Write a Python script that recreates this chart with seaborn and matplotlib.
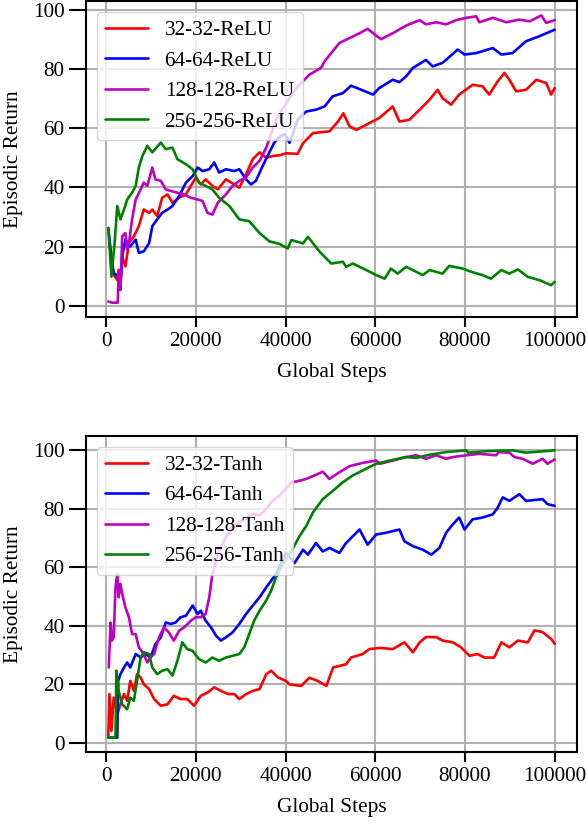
import matplotlib
matplotlib.use("Agg")
import matplotlib.pyplot as plt
import seaborn as sns
import pandas as pd

# ---------------- data (step, episodic return) ----------------
relu_labels = ["32-32-ReLU", "64-64-ReLU", "128-128-ReLU", "256-256-ReLU"]
tanh_labels = ["32-32-Tanh", "64-64-Tanh", "128-128-Tanh", "256-256-Tanh"]
colors = ["#ff0000", "#0000ff", "#bf00bf", "#008000"]

relu_32 = [(800, 20), (1700, 10.5), (2500, 8.8), (3200, 7.9), (3600, 16.7), (4300, 13.3), (5100, 21.2),
           (6200, 23.5), (7300, 26.9), (8400, 32.5), (9600, 31.4), (10300, 32.5), (11400, 30.3), (12500, 36.5),
           (13700, 37.6), (14800, 34.8), (16300, 36.5), (17800, 37.6), (18900, 40.5), (20000, 43.3),
           (21100, 41), (22200, 42.7), (23700, 40.5), (24900, 39.3), (26700, 42.7), (28600, 41), (29700, 39.9),
           (31200, 44.4), (32700, 49.5), (34200, 51.8), (35700, 50), (37200, 50.6), (38700, 50.8), (40100, 51.5),
           (42700, 51.3), (43900, 54.9), (46100, 58.3), (49800, 58.9), (51700, 62.2), (52900, 65), (54300, 60.5),
           (55800, 59.4), (58700, 61.7), (60900, 63.4), (63900, 67.3), (65400, 62.2), (67600, 62.8), (69900, 66.2),
           (72100, 69.6), (73900, 72.9), (75000, 70.1), (76900, 67.9), (78700, 71.3), (81700, 74.6), (83900, 74.1),
           (85400, 71.3), (87300, 75.8), (88800, 78.6), (89900, 76.3), (91400, 72.4), (93600, 72.9), (95900, 76.3),
           (98100, 75.2), (99200, 71.3), (100000, 73.5)]

relu_64 = [(500, 26.3), (1000, 19), (1700, 11.1), (2800, 9.9), (3200, 6.6), (3600, 16.7), (4300, 22.4),
           (5400, 20.1), (6600, 22.4), (7300, 17.9), (8400, 18.4), (9600, 21.2), (10300, 26.9), (11400, 29.2),
           (12500, 31.4), (13700, 32.5), (14800, 33.7), (16300, 37.1), (17800, 41.6), (19300, 43.8), (20400, 46.7),
           (21500, 45.5), (23000, 46.1), (24100, 48.4), (25200, 45), (26700, 46.1), (28600, 45.5), (29700, 46.1),
           (31200, 42.7), (32300, 41), (33400, 42.2), (34900, 47.2), (36000, 50.6), (37500, 55.1), (38700, 57),
           (39800, 58), (40900, 55), (42700, 62.8), (44600, 65.6), (46800, 66.2), (48700, 67.3), (50500, 70.7),
           (52800, 71.8), (54600, 74.3), (56900, 72.9), (59500, 71.3), (60900, 73.5), (63900, 76.3), (65400, 75.5),
           (66900, 77.5), (68400, 80.3), (71300, 83), (72800, 80.8), (75000, 82), (78400, 86.5), (79900, 84.8),
           (82500, 85.3), (86200, 87), (88100, 84.8), (90600, 85.3), (93600, 89.3), (96600, 91), (100000, 93.2)]

relu_128 = [(500, 1.5), (1300, 1.1), (2600, 1.1), (2800, 12.2), (3200, 5.4), (3600, 23.5), (4300, 24.6),
            (4700, 19), (5100, 21.2), (5800, 29.2), (6600, 35.9), (7700, 39.3), (8400, 41.6), (9200, 40.5),
            (10300, 46.7), (11000, 42.7), (12200, 42.2), (13300, 39.3), (14400, 38.8), (15900, 38.2), (17400, 37.6),
            (18900, 36.5), (20400, 35.9), (21500, 35.4), (22600, 31.4), (23700, 30.8), (24900, 34.8), (25600, 35.9),
            (26700, 37.6), (28200, 40.5), (29700, 42.2), (31200, 43.3), (32700, 46.7), (34200, 48.9), (35700, 53.4),
            (36800, 58), (37900, 63), (40000, 68), (42400, 73.5), (45300, 78), (47900, 80.3), (48700, 82.5),
            (52000, 88.7), (56500, 92), (58300, 93.5), (60200, 91.2), (61300, 90), (63900, 92), (66900, 94.6),
            (69900, 96.4), (71300, 95), (73600, 95.7), (75800, 95), (78000, 96.4), (80300, 97.2), (82500, 97.7),
            (83200, 95.7), (86200, 97.2), (89200, 95.7), (92100, 96.6), (94400, 96), (97000, 98), (98100, 95.5),
            (100000, 96.4)]

relu_256 = [(500, 26.3), (1200, 9.9), (1900, 21.2), (2500, 33.7), (3200, 29.2), (4000, 32.5), (4700, 35.9),
            (5800, 38.2), (6600, 40.5), (7300, 46.7), (8100, 50.6), (9200, 54), (10300, 51.8), (12200, 55.1),
            (13300, 52.9), (14800, 53.4), (15900, 49.5), (17800, 47.8), (19300, 46.1), (20700, 41.6), (22200, 40.5),
            (23700, 39.3), (25200, 36.5), (27500, 33.7), (29700, 29.2), (31900, 28.6), (34200, 24.6), (36400, 21.8),
            (38700, 20.9), (40500, 19.4), (41300, 22.2), (43900, 21.1), (45000, 23.3), (47600, 18.3), (50200, 14.3),
            (52800, 14.9), (53500, 13.2), (55000, 14.3), (58000, 12.1), (60200, 10.4), (62100, 9.2), (63500, 12.6),
            (65000, 10.9), (66900, 13.2), (70600, 10.4), (72100, 12.1), (75000, 10.9), (76500, 13.5), (79500, 12.6),
            (81400, 11.5), (83900, 10.4), (85800, 9.2), (88100, 12.1), (89900, 10.9), (91800, 12.3), (94000, 9.8),
            (96600, 8.7), (99200, 7), (100000, 8.1)]

tanh_32 = [(500, 2.3), (750, 16.6), (1200, 4), (1700, 15.4), (2500, 9.7), (3200, 13.1), (4000, 16.6),
           (4700, 14.3), (5400, 21.1), (6200, 17.7), (6900, 23.4), (7700, 22.3), (8400, 20), (9600, 18.3),
           (10700, 14.9), (12200, 12.6), (13700, 13.1), (15100, 16), (16600, 14.9), (18100, 14.9), (19600, 12.6),
           (21100, 16), (22600, 17.1), (24100, 18.9), (25600, 17.7), (27200, 16.6), (28600, 16.6), (29700, 14.9),
           (31200, 16.6), (32700, 17.7), (34200, 18.3), (35700, 23.4), (36800, 24.6), (38300, 22.3), (40100, 21.1),
           (40900, 19.9), (43500, 19.4), (45300, 22.2), (47200, 21.1), (49100, 19.4), (50600, 25.7), (53500, 26.8),
           (54600, 29.1), (57200, 30.3), (58700, 32), (61000, 32.4), (63900, 32), (66500, 34.3), (68400, 30.9),
           (69900, 34.3), (71300, 36.1), (73600, 36.1), (75000, 34.9), (77300, 34.3), (79100, 32.6), (81000, 29.7),
           (82800, 30.3), (84300, 29.1), (86500, 29.1), (88100, 34.3), (89900, 32.6), (91800, 34.9), (94000, 34.3),
           (95500, 38.4), (97300, 37.8), (99200, 35.5), (100000, 33.8)]

tanh_64 = [(500, 1.7), (2500, 1.7), (2700, 21.1), (3200, 23.4), (4000, 25.7), (4700, 27.4), (5400, 25.7),
           (6600, 30.3), (7700, 29.1), (8800, 30.3), (9900, 29.1), (11000, 33.7), (12200, 36), (13300, 41.1),
           (14400, 40.6), (15500, 41.1), (16600, 42.9), (17800, 43.4), (19300, 46.9), (20400, 44), (21100, 45.1),
           (22200, 41.7), (23400, 39.4), (24500, 36.6), (25600, 34.9), (26700, 36), (28200, 37.7), (29700, 40.6),
           (31200, 44), (32700, 46.9), (34200, 49.7), (35700, 53.1), (36800, 55.4), (37900, 57.7), (40100, 65),
           (42000, 61.4), (43900, 66), (45000, 64.3), (46800, 68.3), (48300, 65.4), (49800, 66.6), (52000, 64.9),
           (53500, 68.3), (56500, 72.9), (58300, 67.7), (60200, 71.2), (62400, 71.8), (65400, 72.9), (66500, 68.9),
           (68400, 67.2), (70600, 66), (72500, 64.3), (74300, 66.6), (75800, 71.8), (77300, 74.7), (78700, 77),
           (79900, 72.9), (81700, 76.4), (83900, 77), (86200, 78.1), (87300, 80.4), (88400, 83.9), (89900, 82.7),
           (92100, 85), (93600, 82.7), (97300, 83.3), (98400, 81.6), (100000, 81)]

tanh_128 = [(600, 25.7), (1000, 41.1), (1300, 34.9), (1700, 36), (2100, 53.1), (2500, 57.7), (2800, 49.7),
            (3200, 54.3), (3600, 50.9), (4300, 46.3), (5100, 42.9), (5800, 37.1), (6600, 37.1), (7300, 32.6),
            (8400, 30.3), (9200, 27.4), (9900, 29.1), (10700, 30.3), (11800, 36), (12900, 39.4), (14000, 37.7),
            (15100, 34.9), (16300, 38.3), (17400, 39.4), (18900, 41.7), (20000, 42.9), (21100, 42.9), (22200, 44),
            (23000, 49.7), (23700, 57.7), (25200, 65.7), (26700, 70.3), (28200, 73.7), (29700, 75.4), (31200, 76.6),
            (32700, 78.3), (34200, 77.7), (35700, 80), (37200, 82.9), (38700, 84.6), (40100, 86.9), (41300, 89),
            (43100, 89.6), (44600, 90.2), (47200, 91.9), (48300, 92.7), (49800, 90.2), (52000, 92.5), (54300, 94.6),
            (57200, 95.7), (60200, 96.5), (61000, 95.4), (63900, 96.5), (66900, 97.7), (69100, 98.3), (71300, 97.1),
            (73600, 98.3), (75800, 97.1), (77300, 97.7), (80300, 98.3), (83200, 98.8), (86900, 98.3), (87600, 99.4),
            (89900, 99.2), (91000, 97.7), (92900, 97.1), (95100, 95.4), (97300, 97.1), (98400, 95.4), (100000, 96.9)]

tanh_256 = [(500, 1.7), (2100, 1.7), (2300, 24.6), (2800, 17.7), (3600, 13.1), (4700, 11.4), (5400, 15.4),
            (6200, 14.3), (6900, 21.1), (7700, 29.1), (8400, 30.9), (9600, 30.3), (10300, 25.7), (11400, 23.4),
            (12500, 24.6), (13700, 25.1), (14800, 22.9), (15900, 28), (17000, 34.3), (18100, 32), (19300, 31.4),
            (20700, 28.6), (22200, 27.4), (23700, 29.1), (25200, 28), (26700, 29.1), (28200, 29.7), (29700, 30.3),
            (30800, 32.6), (31900, 37.1), (33000, 41.7), (34200, 45.1), (35700, 48.6), (36800, 52), (37900, 56.6),
            (39400, 61.1), (41300, 65.4), (43100, 70.6), (44600, 74.1), (46100, 78.7), (48300, 83.3), (50600, 86.2),
            (52800, 89.1), (55000, 91.4), (57200, 93.1), (60200, 95.4), (63200, 96.5), (66900, 97.7), (69100, 97.4),
            (72100, 98.5), (75800, 99.4), (80300, 100), (80700, 99.2), (84700, 99.7), (90600, 100), (93600, 99.2),
            (100000, 100)]

x_ticks = [0, 20000, 40000, 60000, 80000, 100000]
y_ticks = [0, 20, 40, 60, 80, 100]

# ---------------- style ----------------
sns.set_theme(style="ticks")
plt.rcParams["font.family"] = ["Liberation Serif", "DejaVu Serif"]
FS = 15.3
plt.rcParams.update({
    "font.size": FS,
    "axes.labelsize": FS,
    "xtick.labelsize": FS,
    "ytick.labelsize": FS,
    "legend.fontsize": FS,
    "axes.edgecolor": "black",
    "axes.linewidth": 1.5,
    "xtick.color": "black",
    "ytick.color": "black",
    "text.color": "black",
    "axes.labelcolor": "black",
})

fig = plt.figure(figsize=(5.87, 8.26), dpi=100)
ax_top = fig.add_axes([0.1465, 0.6162, 0.8365, 0.3825])
ax_bot = fig.add_axes([0.1465, 0.0896, 0.8365, 0.3826])


def draw(ax, series, labels):
    for data, label, color in zip(series, labels, colors):
        df = pd.DataFrame(data, columns=["step", "ret"])
        sns.lineplot(data=df, x="step", y="ret", ax=ax, color=color, label=label,
                     linewidth=1.9, estimator=None, sort=False)
    ax.set_xticks(x_ticks)
    ax.set_yticks(y_ticks)
    ax.grid(True, color="#b0b0b0", linewidth=1.5)
    ax.set_axisbelow(True)
    ax.set_xlabel("Global Steps", labelpad=9)
    ax.set_ylabel("Episodic Return", labelpad=7)
    ax.tick_params(axis="x", length=7, width=1.5, pad=3.5)
    ax.tick_params(axis="y", length=12, width=1.5, pad=3.5)
    leg = ax.legend(loc="upper left", frameon=True, framealpha=0.8, fancybox=True,
                    edgecolor="0.8", handlelength=2.0)
    for line in leg.get_lines():
        line.set_linewidth(1.9)


draw(ax_top, [relu_32, relu_64, relu_128, relu_256], relu_labels)
draw(ax_bot, [tanh_32, tanh_64, tanh_128, tanh_256], tanh_labels)

fig.savefig("out.png", dpi=100)
